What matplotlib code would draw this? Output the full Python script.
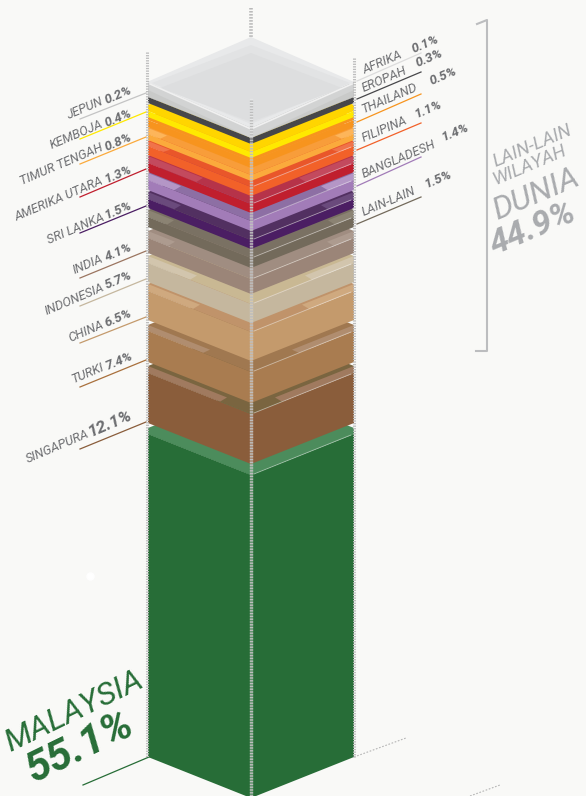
import matplotlib
matplotlib.use('Agg')
import matplotlib.pyplot as plt
from matplotlib.patches import Polygon

# data, top of the stack first
names = ['JEPUN', 'EROPAH', 'KEMBOJA', 'THAILAND', 'TIMUR TENGAH', 'FILIPINA', 'AMERIKA UTARA',
         'BANGLADESH', 'SRI LANKA', 'LAIN-LAIN', 'INDIA', 'INDONESIA', 'CHINA', 'TURKI',
         'SINGAPURA', 'MALAYSIA']
shares = [0.2, 0.3, 0.4, 0.5, 0.8, 1.1, 1.3, 1.4, 1.5, 1.5, 4.1, 5.7, 6.5, 7.4, 12.1, 55.1]
afrika_share = 0.1
rest_share = 44.9

# layout (y at the left corner of each slab)
slab_top = [86, 97, 105, 117, 128, 141, 156, 173, 192, 210, 231, 256, 284, 325, 366, 428]
slab_side = [88, 97, 111, 120, 134, 146, 163, 180, 199, 217, 238, 263, 291, 331, 373, 434]
slab_bot = [97, 103, 117, 127, 140, 155, 172, 190, 208, 227, 253, 282, 320, 362, 423, 757]
corner_dx = [0, 0, 0, 0, 12, 15, 48, 26, 26, 19, 20, 42, 45, 55, 72, 103]

side_col = ['#c9cac9', '#47474a', '#ffe900', '#f7941e', '#fbaa3c', '#f26129', '#c01f2e', '#a27cb8',
            '#4b1e63', '#736a5b', '#9b8578', '#c5b79e', '#c49a6c', '#a97c50', '#8a5d3b', '#276d37']
corner_col = ['#bdbebb', '#47474a', '#ffd500', '#fa9f2c', '#fdb55a', '#f0734a', '#c34a5e', '#b496c6',
              '#6a4a7c', '#8b8373', '#ad9b8f', '#d2c5ad', '#cfa97f', '#b08d6f', '#a07a5f', '#4c8c5c']
mid_col = ['#b5b6b2', '#6f6a35', '#ffd500', '#f7941e', '#f89d3a', '#e9562a', '#b63349', '#8d6fa4',
           '#523061', '#7a7163', '#a08d81', '#c9b893', '#c0936a', '#a07850', '#7a6540', '#4c8c5c']

XL, XC, XR = 148, 251, 354
H = 41
BG = '#f9f9f7'
TXT = '#6d6e71'
plt.rcParams['font.family'] = ['Roboto', 'DejaVu Sans']

fig = plt.figure(figsize=(5.86, 7.96), dpi=100, facecolor=BG)
ax = fig.add_axes([0, 0, 1, 1])
ax.set_xlim(0, 586)
ax.set_ylim(796, 0)
ax.axis('off')


def poly(pts, col, z=2, **kw):
    ax.add_patch(Polygon(pts, closed=True, facecolor=col, edgecolor='none', zorder=z, **kw))


slope = H / (XC - XL)
# bottom slab first, each upper slab covers the back of the one below
for i in range(len(names) - 1, -1, -1):
    t, s, b, dx = slab_top[i], slab_side[i], slab_bot[i], corner_dx[i]
    poly([(XL, t), (XC, t - H), (XR, t), (XR, s), (XC, s + H), (XL, s)], mid_col[i])
    if dx:
        poly([(XL, t), (XL + dx + 7, t + (dx + 7) * slope), (XL + dx, s + dx * slope), (XL, s)], corner_col[i])
        poly([(XR, t), (XR - dx - 7, t + (dx + 7) * slope), (XR - dx, s + dx * slope), (XR, s)], corner_col[i])
    poly([(XL, s), (XC, s + H), (XR, s), (XR, b), (XC, b + H), (XL, b)], side_col[i])
    # thin highlight on the right side
    if i >= 5:
        ax.plot([XC + 3, XR - 3], [s + H - 1, s + 1], color='white', lw=0.6, alpha=0.5, zorder=3)

# translucent lid
poly([(XL, 90), (XC, 138), (XR, 90), (XR, 82), (XC, 128), (XL, 82)], '#d2d3d3')
poly([(XL - 1, 82), (XC, 37), (XR, 82), (XC, 128)], '#e8e9ea')
poly([(XL + 4, 83), (XC, 45), (XR - 4, 83), (XC, 124)], '#e2e3e4')
poly([(XL + 12, 88), (XC, 53), (XR - 12, 88), (XC, 122)], '#dddedf')
ax.plot([XL + 2, XC, XR - 2], [84, 129, 84], color='#f0f0f0', lw=1.2, zorder=3)

# dashed guides
dash = (0, (0.42, 0.42))
ax.plot([XC, XC], [8, 37], color='#b9b9b9', lw=2.6, ls=dash, zorder=5)
ax.plot([XC, XC], [100, 796], color='white', lw=2.4, alpha=0.25, zorder=5)
ax.plot([XC, XC], [100, 796], color='#bdbdbd', lw=2.4, ls=dash, zorder=6)
ax.plot([XL - 1, XL - 1], [52, 757], color='#bdbdbd', lw=2.2, ls=dash, zorder=5)
ax.plot([XR, XR], [58, 757], color='#bdbdbd', lw=2.2, ls=dash, zorder=5)
ax.plot([XR, 406], [757, 738], color='#b5b5b5', lw=0.8, ls=(0, (1.5, 1.5)), zorder=1)
ax.plot([470, 500], [796, 785], color='#b5b5b5', lw=0.8, ls=(0, (1.5, 1.5)), zorder=1)

# leader lines: x0, y0, x1, y1, colour
leaders = [
    (80, 119, 146, 93, '#c4c4c4'), (80, 139, 146, 112, '#ffe900'), (80, 164, 146, 137, '#fbaa3c'),
    (80, 197, 146, 169, '#c01f2e'), (80, 233, 146, 206, '#4b1e63'), (80, 278, 146, 251, '#9b7560'),
    (80, 306, 146, 279, '#c5b79e'), (80, 343, 146, 317, '#c49a6c'), (80, 387, 146, 360, '#a9703c'),
    (80, 449, 146, 422, '#8a5d3b'), (83, 785, 149, 757, '#276d37'),
    (357, 81, 421, 53, '#dcdcdc'), (357, 99, 421, 72, '#47474a'), (357, 122, 421, 94, '#f7941e'),
    (357, 150, 421, 123, '#f26129'), (357, 186, 421, 157, '#a27cb8'), (357, 224, 421, 197, '#736a5b'),
]
for x0, y0, x1, y1, c in leaders:
    ax.plot([x0, x1], [y0, y1], color=c, lw=0.9, zorder=4)

share_of = dict(zip(names, shares))
share_of['AFRIKA'] = afrika_share


def lab(x, y, s, size, col=TXT, bold=False, ha='left', rot=23):
    ax.text(x, y, s, fontsize=size, color=col, rotation=rot, rotation_mode='anchor', ha=ha, va='baseline',
            style='italic', fontweight='bold' if bold else 'normal', zorder=7)


# left labels: right end of name, right end of value (baseline)
left_pos = {
    'JEPUN': (104, 104, 133, 93),
    'KEMBOJA': (104, 127, 133, 116),
    'TIMUR TENGAH': (104, 150, 133, 140),
    'AMERIKA UTARA': (104, 184, 133, 172),
    'SRI LANKA': (105, 220, 133, 208),
    'INDIA': (104, 262, 133, 250),
    'INDONESIA': (105, 290, 133, 278),
    'CHINA': (105, 327, 133, 316),
    'TURKI': (105, 370, 133, 359),
    'SINGAPURA': (90, 437, 133, 419),
}
for n, (xa, ya, xb, yb) in left_pos.items():
    lab(xa, ya, n, 9.2, ha='right')
    size = 12.5 if n == 'SINGAPURA' else 9.6
    lab(xb, yb, f'{share_of[n]}%', size, bold=True, ha='right')

# right labels: left end of name, left end of value
right_pos = {
    'AFRIKA': (364, 74, 413, 53),
    'EROPAH': (364, 92, 418, 67),
    'THAILAND': (364, 113, 431, 85),
    'FILIPINA': (364, 142, 416, 118),
    'BANGLADESH': (364, 178, 443, 141),
    'LAIN-LAIN': (364, 216, 426, 188),
}
for n, (xa, ya, xb, yb) in right_pos.items():
    lab(xa, ya, n, 9.2)
    lab(xb, yb, f'{share_of[n]}%', 9.6, bold=True)

# big labels
lab(10, 752, 'MALAYSIA', 23, col='#276d37', rot=26)
lab(34, 783, f'{share_of["MALAYSIA"]}%', 31, col='#276d37', bold=True, rot=26)
GREY = '#a9abae'
lab(495, 167, 'LAIN-LAIN', 13.5, col=GREY)
lab(495, 185, 'WILAYAH', 13.5, col=GREY)
lab(497, 220, 'DUNIA', 23, col=GREY)
lab(495, 255, f'{rest_share}%', 24.5, col=GREY, bold=True)

# bracket
ax.plot([477, 487, 487, 476], [24, 20, 351, 351], color='#bcbdbf', lw=1.5, zorder=1)

# small white spot on the background
ax.plot([90], [576], 'o', color='white', ms=5, zorder=1)

fig.savefig('out.png', dpi=100, facecolor=BG)
